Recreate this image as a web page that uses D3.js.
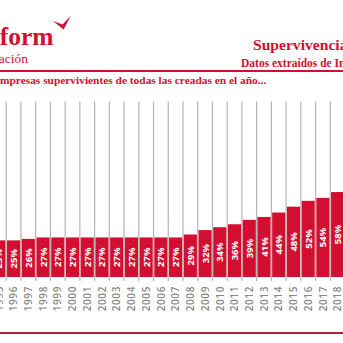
<!DOCTYPE html>
<html>
<head>
<meta charset="utf-8">
<script src="https://cdn.jsdelivr.net/npm/d3@7"></script>
<style>
  body { margin: 0; background: #fff; }
  svg { display: block; }
</style>
</head>
<body>
<div id="chart"></div>
<script>
const years = [1995, 1996, 1997, 1998, 1999, 2000, 2001, 2002, 2003, 2004, 2005, 2006,
  2007, 2008, 2009, 2010, 2011, 2012, 2013, 2014, 2015, 2016, 2017, 2018];
const survival = [25, 25, 26, 27, 27, 27, 27, 27, 27, 27, 27, 27,
  27, 29, 32, 34, 36, 39, 41, 44, 48, 52, 54, 58];
const title = "Supervivencia empresarial";
const source = "Datos extraídos de Informa D&B";
const heading = "empresas supervivientes de todas las creadas en el año...";

const width = 343;
const height = 343;
const red = "#d20f30";
const darkRed = "#b51f3a";
const serif = "'Liberation Serif', 'DejaVu Serif', serif";
const sans = "'Open Sans', 'Noto Sans', sans-serif";

const svg = d3.select("#chart")
  .append("svg")
  .attr("width", width)
  .attr("height", height);

// logo
svg.append("text")
  .attr("x", 53.5)
  .attr("y", 45)
  .attr("text-anchor", "end")
  .attr("font-family", serif)
  .attr("font-weight", "bold")
  .attr("font-size", 25.5)
  .attr("fill", red)
  .text("Iberinform");

svg.append("path")
  .attr("d", "M53,21 L62.5,24.5 L70.5,16 L66,25 L63.5,29.5 Z")
  .attr("fill", red);

svg.append("text")
  .attr("x", 28)
  .attr("y", 63)
  .attr("text-anchor", "end")
  .attr("font-family", serif)
  .attr("font-size", 13.5)
  .attr("fill", red)
  .text("Información");

// title block
svg.append("text")
  .attr("x", 253)
  .attr("y", 50)
  .attr("font-family", serif)
  .attr("font-weight", "bold")
  .attr("font-size", 15.6)
  .attr("fill", red)
  .text(title);

svg.append("text")
  .attr("x", 241)
  .attr("y", 66.5)
  .attr("font-family", serif)
  .attr("font-weight", "bold")
  .attr("font-size", 11.5)
  .attr("fill", red)
  .text(source);

svg.append("rect")
  .attr("x", 0)
  .attr("y", 70)
  .attr("width", width)
  .attr("height", 2)
  .attr("fill", red);

const headingText = svg.append("text")
  .attr("y", 83.5)
  .attr("font-family", serif)
  .attr("font-weight", "bold")
  .attr("font-size", 11.4)
  .attr("fill", red)
  .text(heading);
// first letter runs off the left edge
headingText.attr("x", -headingText.node().getSubStringLength(0, 1));

// scales
const x = d3.scaleBand()
  .domain(years)
  .range([-9.0, 344.5]);

const y = d3.scaleLinear()
  .domain([0, 100])
  .range([277, 130.5]);

const data = years.map((year, i) => ({ year, value: survival[i] }));

svg.append("g")
  .attr("class", "grid")
  .selectAll("line")
  .data(years)
  .join("line")
  .attr("x1", (d) => x(d) + 0.5)
  .attr("x2", (d) => x(d) + 0.5)
  .attr("y1", 101.5)
  .attr("y2", 281)
  .attr("stroke", "#b4b4b4")
  .attr("stroke-width", 1.2);

svg.append("g")
  .attr("class", "bars")
  .selectAll("rect")
  .data(data)
  .join("rect")
  .attr("x", (d) => x(d.year) + 1.3)
  .attr("width", x.bandwidth() - 1.6)
  .attr("y", (d) => y(d.value))
  .attr("height", (d) => y(0) - y(d.value))
  .attr("fill", red);

svg.append("g")
  .attr("class", "values")
  .selectAll("text")
  .data(data)
  .join("text")
  .attr("transform", (d) =>
    `translate(${x(d.year) + x.bandwidth() / 2 + 0.6},${(y(d.value) + y(0)) / 2}) rotate(-90)`)
  .attr("text-anchor", "middle")
  .attr("dy", "0.36em")
  .attr("font-family", sans)
  .attr("font-weight", "bold")
  .attr("font-size", 9.5)
  .attr("fill", "#fff")
  .text((d) => `${d.value}%`);

svg.append("g")
  .attr("class", "years")
  .selectAll("text")
  .data(years)
  .join("text")
  .attr("transform", (d) =>
    `translate(${x(d) + x.bandwidth() / 2 + 0.6},286) rotate(-90)`)
  .attr("text-anchor", "end")
  .attr("dy", "0.36em")
  .attr("font-family", sans)
  .attr("font-weight", 600)
  .attr("font-size", 10)
  .attr("letter-spacing", 0.6)
  .attr("fill", "#888")
  .text((d) => d);

svg.append("rect")
  .attr("x", 0)
  .attr("y", 332)
  .attr("width", width)
  .attr("height", 2)
  .attr("fill", darkRed);
</script>
</body>
</html>
